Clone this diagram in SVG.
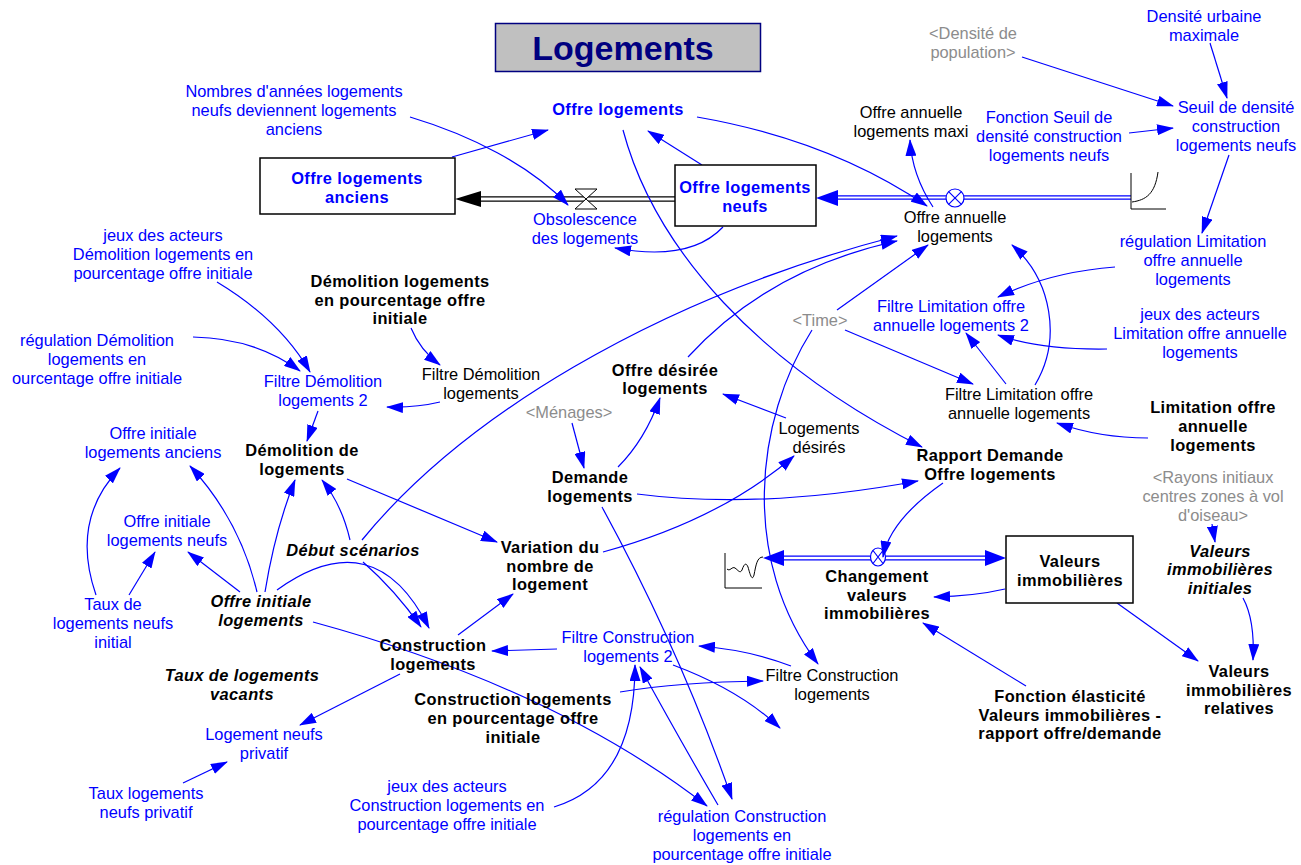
<svg xmlns="http://www.w3.org/2000/svg" width="1301" height="865" viewBox="0 0 1301 865">
<defs>
<style>
text{font-family:"Liberation Sans",Arial,Helvetica,sans-serif;font-size:16.4px;text-anchor:middle}
.b{font-weight:bold;letter-spacing:0.4px}
.i{font-style:italic}
.bl{fill:#0000ff}
.gr{fill:#8c8c8c}
.k{fill:#000}
.stock{fill:#fff;stroke:#000;stroke-width:1.5}
.c{fill:none;stroke:#0000ff;stroke-width:1.2;marker-end:url(#ah)}
.icon{fill:none;stroke:#000;stroke-width:1}
</style>
<marker id="ah" viewBox="0 0 17 11" refX="16" refY="5.5" markerWidth="17" markerHeight="11" markerUnits="userSpaceOnUse" orient="auto">
<path d="M0,0 L17,5.5 L0,11 z" fill="#0000ff"/>
</marker>
</defs>
<rect width="1301" height="865" fill="#fff"/>

<g id="title">
<rect x="495.5" y="23.5" width="265" height="48" fill="#c0c0c0" stroke="#000080" stroke-width="1.5"/>
<text x="623" y="60" style="font-size:34px;font-weight:bold" fill="#000080">Logements</text>
</g>

<!-- flows (pipes, valves, sources) -->
<g id="flow-obsolescence">
<path d="M675,199 L478,199" stroke="#000" stroke-width="5.5" fill="none"/>
<path d="M676,199 L478,199" stroke="#fff" stroke-width="3" fill="none"/>
<polygon points="455,199 481,191 481,207" fill="#000"/>
<path d="M575,189 L597,189 L575,209 L597,209 Z" fill="#fff" stroke="#000" stroke-width="1"/>
</g>
<g id="flow-offre-annuelle">
<path d="M1131,197.5 L836,197.5" stroke="#0000ff" stroke-width="4.5" fill="none"/>
<path d="M1131,197.5 L836,197.5" stroke="#fff" stroke-width="2" fill="none"/>
<polygon points="816,198 838,190 838,206" fill="#0000ff"/>
<circle cx="955" cy="198" r="9" fill="#fff" stroke="#0000ff" stroke-width="1.2"/>
<path d="M948.6,191.6 L961.4,204.4 M961.4,191.6 L948.6,204.4" stroke="#0000ff" stroke-width="1.2"/>
<path d="M1131,173 L1131,209 L1166,209" class="icon"/>
<path d="M1132,202 C1146,200 1155,194 1158,172" class="icon" stroke="#333"/>
</g>
<g id="flow-changement">
<path d="M782,558 L988,558" stroke="#0000ff" stroke-width="5" fill="none"/>
<path d="M782,558 L988,558" stroke="#fff" stroke-width="2.5" fill="none"/>
<polygon points="763,558 784,550 784,566" fill="#0000ff"/>
<polygon points="1006,558 985,550 985,566" fill="#0000ff"/>
<ellipse cx="878" cy="557" rx="7.5" ry="9" fill="#fff" stroke="#0000ff" stroke-width="1.2"/>
<path d="M873,550.5 L883,563.5 M883,550.5 L873,563.5" stroke="#0000ff" stroke-width="1.2"/>
<path d="M725,553 L725,588 L762,588" class="icon"/>
<path d="M727,569 C730,572 732,566 735,568 C738,570 740,574 742,570 C744,564 746,562 748,567 C750,574 752,582 754,575 C756,565 757,557 763,557" class="icon" stroke="#333"/>
</g>

<!-- connectors -->
<g id="connectors">
<path class="c" d="M452,157 L548,130"/>
<path class="c" d="M702,165 L648,131"/>
<path class="c" d="M410,117 C470,135 530,165 568,205"/>
<path class="c" d="M723,227 Q690,262 615,248"/>
<path class="c" d="M623,130 C655,250 760,365 922,447"/>
<path class="c" d="M697,117 Q830,140 927,206"/>
<path class="c" d="M933,207 Q912,175 910,140"/>
<path class="c" d="M1022,57 L1173,106"/>
<path class="c" d="M1210,43 L1227,98"/>
<path class="c" d="M1129,133 L1173,128"/>
<path class="c" d="M1229,155 L1202,233"/>
<path class="c" d="M1115,267 Q1050,272 998,297"/>
<path class="c" d="M1107,349 Q1040,350 998,335"/>
<path class="c" d="M1006,384 L966,333"/>
<path class="c" d="M1035,385 C1062,340 1052,280 1012,245"/>
<path class="c" d="M837,310 L928,245"/>
<path class="c" d="M845,330 L973,384"/>
<path class="c" d="M812,330 C755,420 740,560 818,664"/>
<path class="c" d="M688,357 C740,300 810,260 897,241"/>
<path class="c" d="M362,540 C460,420 650,300 897,236"/>
<path class="c" d="M217,282 Q280,320 310,372"/>
<path class="c" d="M193,337 Q255,338 300,371"/>
<path class="c" d="M411,328 Q420,350 440,365"/>
<path class="c" d="M440,402 Q415,408 387,407"/>
<path class="c" d="M318,411 L307,441"/>
<path class="c" d="M257,592 Q240,520 190,466"/>
<path class="c" d="M96,595 Q70,520 120,468"/>
<path class="c" d="M129,595 L155,552"/>
<path class="c" d="M240,592 L188,552"/>
<path class="c" d="M265,592 Q275,530 295,480"/>
<path class="c" d="M350,540 Q342,505 322,480"/>
<path class="c" d="M347,479 L497,542"/>
<path class="c" d="M277,590 Q375,520 429,628"/>
<path class="c" d="M363,562 Q395,590 421,627"/>
<path class="c" d="M313,622 Q555,688 707,806"/>
<path class="c" d="M458,635 L513,594"/>
<path class="c" d="M557,649 L492,651"/>
<path class="c" d="M400,674 L300,725"/>
<path class="c" d="M183,783 L227,762"/>
<path class="c" d="M620,692 Q680,682 763,681"/>
<path class="c" d="M554,807 C610,790 635,740 635,665"/>
<path class="c" d="M718,805 Q680,740 640,667"/>
<path class="c" d="M602,507 Q680,650 732,799"/>
<path class="c" d="M673,665 Q740,690 780,728"/>
<path class="c" d="M791,666 Q750,650 699,646"/>
<path class="c" d="M572,423 L584,468"/>
<path class="c" d="M618,467 Q645,440 660,398"/>
<path class="c" d="M786,418 L723,394"/>
<path class="c" d="M637,494 Q760,510 918,481"/>
<path class="c" d="M603,552 Q720,520 794,456"/>
<path class="c" d="M943,483 Q890,520 883,557"/>
<path class="c" d="M1005,589 Q975,596 934,597"/>
<path class="c" d="M1026,686 L923,623"/>
<path class="c" d="M1117,603 L1198,661"/>
<path class="c" d="M1243,598 Q1255,620 1253,660"/>
<path class="c" d="M1212,524 L1215,542"/>
<path class="c" d="M1148,438 Q1100,438 1057,423"/>
</g>

<!-- stocks -->
<g id="offre-logements-anciens">
<rect class="stock" x="260" y="158" width="195" height="56"/>
<text class="b bl"><tspan x="357" y="184">Offre logements</tspan><tspan x="357" y="203">anciens</tspan></text>
</g>
<g id="offre-logements-neufs">
<rect class="stock" x="675" y="165" width="141" height="61"/>
<text class="b bl"><tspan x="745" y="193">Offre logements</tspan><tspan x="745" y="212">neufs</tspan></text>
</g>
<g id="valeurs-immobilieres">
<rect class="stock" x="1006" y="536" width="127" height="67"/>
<text class="b k"><tspan x="1070" y="567">Valeurs</tspan><tspan x="1070" y="586">immobilières</tspan></text>
</g>

<!-- variables -->
<g id="nombres-annees"><text class="bl"><tspan x="294" y="97">Nombres d'années logements</tspan><tspan x="294" y="116">neufs deviennent logements</tspan><tspan x="294" y="135">anciens</tspan></text></g>
<g id="obsolescence"><text class="bl"><tspan x="585" y="225">Obsolescence</tspan><tspan x="585" y="244">des logements</tspan></text></g>
<g id="offre-logements"><text class="b bl" x="618" y="115">Offre logements</text></g>
<g id="offre-annuelle"><text class="k"><tspan x="955" y="223">Offre annuelle</tspan><tspan x="955" y="242">logements</tspan></text></g>
<g id="offre-annuelle-maxi"><text class="k"><tspan x="911" y="118">Offre annuelle</tspan><tspan x="911" y="137">logements maxi</tspan></text></g>
<g id="densite-population"><text class="gr"><tspan x="973" y="39">&lt;Densité de</tspan><tspan x="973" y="58">population&gt;</tspan></text></g>
<g id="densite-urbaine"><text class="bl"><tspan x="1204" y="22">Densité urbaine</tspan><tspan x="1204" y="41">maximale</tspan></text></g>
<g id="seuil-densite"><text class="bl"><tspan x="1236" y="113">Seuil de densité</tspan><tspan x="1236" y="132">construction</tspan><tspan x="1236" y="151">logements neufs</tspan></text></g>
<g id="fonction-seuil"><text class="bl"><tspan x="1049" y="123">Fonction Seuil de</tspan><tspan x="1049" y="142">densité construction</tspan><tspan x="1049" y="161">logements neufs</tspan></text></g>
<g id="regulation-limitation"><text class="bl"><tspan x="1193" y="247">régulation Limitation</tspan><tspan x="1193" y="266">offre annuelle</tspan><tspan x="1193" y="285">logements</tspan></text></g>
<g id="filtre-limitation-2"><text class="bl"><tspan x="951" y="312">Filtre Limitation offre</tspan><tspan x="951" y="331">annuelle logements 2</tspan></text></g>
<g id="jeux-limitation"><text class="bl"><tspan x="1200" y="320">jeux des acteurs</tspan><tspan x="1200" y="339">Limitation offre annuelle</tspan><tspan x="1200" y="358">logements</tspan></text></g>
<g id="time"><text class="gr" x="820" y="326">&lt;Time&gt;</text></g>
<g id="filtre-limitation"><text class="k"><tspan x="1019" y="400">Filtre Limitation offre</tspan><tspan x="1019" y="419">annuelle logements</tspan></text></g>
<g id="limitation"><text class="b k"><tspan x="1213" y="413">Limitation offre</tspan><tspan x="1213" y="432">annuelle</tspan><tspan x="1213" y="451">logements</tspan></text></g>
<g id="rapport"><text class="b k"><tspan x="990" y="461">Rapport Demande</tspan><tspan x="990" y="480">Offre logements</tspan></text></g>
<g id="rayons"><text class="gr"><tspan x="1213" y="483">&lt;Rayons initiaux</tspan><tspan x="1213" y="502">centres zones à vol</tspan><tspan x="1213" y="521">d'oiseau&gt;</tspan></text></g>
<g id="valeurs-initiales"><text class="b i k"><tspan x="1220" y="557">Valeurs</tspan><tspan x="1220" y="575">immobilières</tspan><tspan x="1220" y="594">initiales</tspan></text></g>
<g id="changement"><text class="b k"><tspan x="877" y="582">Changement</tspan><tspan x="877" y="601">valeurs</tspan><tspan x="877" y="619">immobilières</tspan></text></g>
<g id="fonction-elasticite"><text class="b k"><tspan x="1070" y="702">Fonction élasticité</tspan><tspan x="1070" y="721">Valeurs immobilières -</tspan><tspan x="1070" y="739">rapport offre/demande</tspan></text></g>
<g id="valeurs-relatives"><text class="b k"><tspan x="1239" y="677">Valeurs</tspan><tspan x="1239" y="696">immobilières</tspan><tspan x="1239" y="714">relatives</tspan></text></g>
<g id="filtre-demolition"><text class="k"><tspan x="481" y="380">Filtre Démolition</tspan><tspan x="481" y="399">logements</tspan></text></g>
<g id="demolition-pct"><text class="b k"><tspan x="400" y="287">Démolition logements</tspan><tspan x="400" y="306">en pourcentage offre</tspan><tspan x="400" y="324">initiale</tspan></text></g>
<g id="jeux-demolition"><text class="bl"><tspan x="163" y="241">jeux des acteurs</tspan><tspan x="163" y="260">Démolition logements en</tspan><tspan x="163" y="279">pourcentage offre initiale</tspan></text></g>
<g id="regulation-demolition"><text class="bl"><tspan x="97" y="346">régulation Démolition</tspan><tspan x="97" y="365">logements en</tspan><tspan x="97" y="384">ourcentage offre initiale</tspan></text></g>
<g id="filtre-demolition-2"><text class="bl"><tspan x="323" y="387">Filtre Démolition</tspan><tspan x="323" y="406">logements 2</tspan></text></g>
<g id="offre-initiale-anciens"><text class="bl"><tspan x="153" y="439">Offre initiale</tspan><tspan x="153" y="458">logements anciens</tspan></text></g>
<g id="demolition"><text class="b k"><tspan x="302" y="456">Démolition de</tspan><tspan x="302" y="475">logements</tspan></text></g>
<g id="offre-initiale-neufs"><text class="bl"><tspan x="167" y="527">Offre initiale</tspan><tspan x="167" y="546">logements neufs</tspan></text></g>
<g id="debut-scenarios"><text class="b i k" x="353" y="556">Début scénarios</text></g>
<g id="taux-neufs-initial"><text class="bl"><tspan x="113" y="610">Taux de</tspan><tspan x="113" y="629">logements neufs</tspan><tspan x="113" y="648">initial</tspan></text></g>
<g id="offre-initiale"><text class="b i k"><tspan x="261" y="607">Offre initiale</tspan><tspan x="261" y="626">logements</tspan></text></g>
<g id="taux-vacants"><text class="b i k"><tspan x="242" y="681">Taux de logements</tspan><tspan x="242" y="700">vacants</tspan></text></g>
<g id="logement-neufs-privatif"><text class="bl"><tspan x="264" y="740">Logement neufs</tspan><tspan x="264" y="759">privatif</tspan></text></g>
<g id="taux-privatif"><text class="bl"><tspan x="146" y="799">Taux logements</tspan><tspan x="146" y="818">neufs privatif</tspan></text></g>
<g id="construction"><text class="b k"><tspan x="433" y="651">Construction</tspan><tspan x="433" y="670">logements</tspan></text></g>
<g id="construction-pct"><text class="b k"><tspan x="513" y="705">Construction logements</tspan><tspan x="513" y="724">en pourcentage offre</tspan><tspan x="513" y="743">initiale</tspan></text></g>
<g id="jeux-construction"><text class="bl"><tspan x="447" y="792">jeux des acteurs</tspan><tspan x="447" y="811">Construction logements en</tspan><tspan x="447" y="830">pourcentage offre initiale</tspan></text></g>
<g id="regulation-construction"><text class="bl"><tspan x="742" y="822">régulation Construction</tspan><tspan x="742" y="841">logements en</tspan><tspan x="742" y="860">pourcentage offre initiale</tspan></text></g>
<g id="filtre-construction-2"><text class="bl"><tspan x="628" y="643">Filtre Construction</tspan><tspan x="628" y="662">logements 2</tspan></text></g>
<g id="filtre-construction"><text class="k"><tspan x="832" y="681">Filtre Construction</tspan><tspan x="832" y="700">logements</tspan></text></g>
<g id="variation"><text class="b k"><tspan x="550" y="553">Variation du</tspan><tspan x="550" y="572">nombre de</tspan><tspan x="550" y="590">logement</tspan></text></g>
<g id="menages"><text class="gr" x="569" y="418">&lt;Ménages&gt;</text></g>
<g id="demande"><text class="b k"><tspan x="590" y="483">Demande</tspan><tspan x="590" y="502">logements</tspan></text></g>
<g id="offre-desiree"><text class="b k"><tspan x="665" y="376">Offre désirée</tspan><tspan x="665" y="394">logements</tspan></text></g>
<g id="logements-desires"><text class="k"><tspan x="819" y="434">Logements</tspan><tspan x="819" y="453">désirés</tspan></text></g>
</svg>
